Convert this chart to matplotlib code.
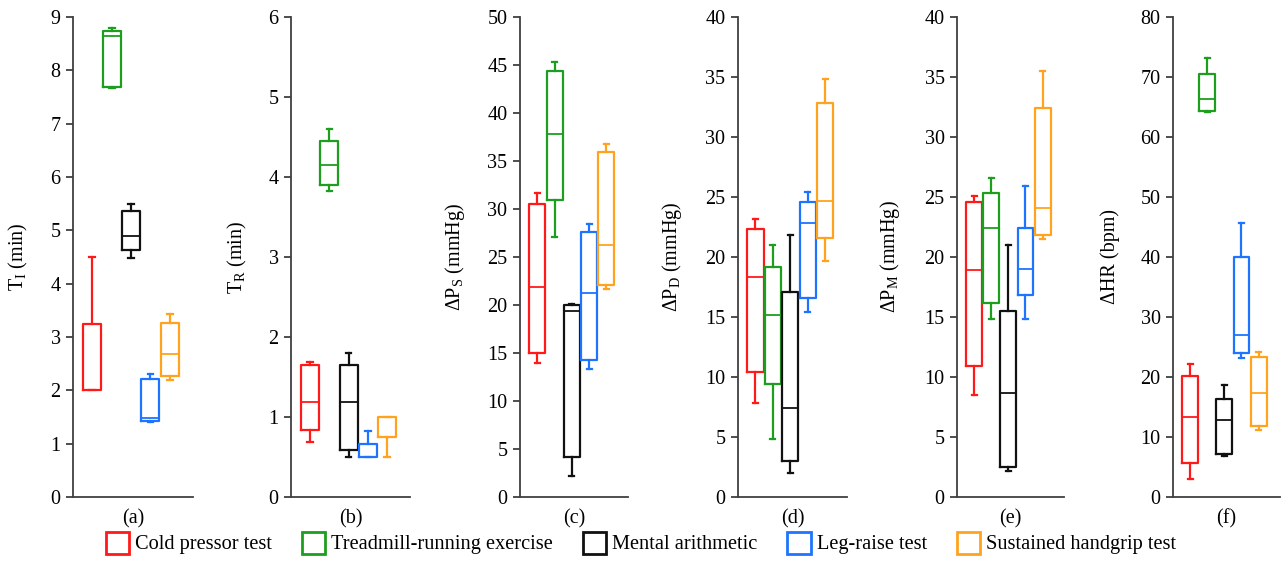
import matplotlib
matplotlib.use('Agg')
import matplotlib.pyplot as plt
from matplotlib.patches import Patch

plt.rcParams['font.family'] = ['Liberation Serif', 'DejaVu Serif']
plt.rcParams['mathtext.fontset'] = 'custom'
plt.rcParams['mathtext.rm'] = 'Liberation Serif'
plt.rcParams['font.size'] = 14.5

tests = ["Cold pressor test", "Treadmill-running exercise", "Mental arithmetic",
         "Leg-raise test", "Sustained handgrip test"]
colors = ['#ff1a1a', '#1e9e1e', '#111111', '#1f74ff', '#ffa31f']

panels = ['(a)', '(b)', '(c)', '(d)', '(e)', '(f)']
ylabels = [r'T$_\mathrm{I}$ (min)', r'T$_\mathrm{R}$ (min)', r'ΔP$_\mathrm{S}$ (mmHg)',
           r'ΔP$_\mathrm{D}$ (mmHg)', r'ΔP$_\mathrm{M}$ (mmHg)', 'ΔHR (bpm)']
ylims = [9, 6, 50, 40, 40, 80]
ysteps = [1, 1, 5, 5, 5, 10]

# per panel, per test: [min, q1, median, q3, max]
stats_a = [[2.0, 2.0, 2.0, 3.25, 4.5],
           [7.67, 7.68, 8.64, 8.74, 8.79],
           [4.49, 4.64, 4.89, 5.37, 5.49],
           [1.41, 1.42, 1.49, 2.22, 2.31],
           [2.19, 2.26, 2.69, 3.27, 3.44]]
stats_b = [[0.69, 0.84, 1.19, 1.65, 1.69],
           [3.82, 3.90, 4.15, 4.45, 4.60],
           [0.50, 0.59, 1.19, 1.65, 1.80],
           [0.50, 0.50, 0.50, 0.66, 0.83],
           [0.50, 0.75, 0.75, 1.00, 1.00]]
stats_c = [[14.0, 15.0, 21.9, 30.5, 31.7],
           [27.1, 30.9, 37.8, 44.4, 45.3],
           [2.2, 4.2, 19.4, 20.0, 20.1],
           [13.3, 14.3, 21.3, 27.6, 28.4],
           [21.7, 22.1, 26.3, 35.9, 36.8]]
stats_d = [[7.8, 10.4, 18.3, 22.3, 23.2],
           [4.8, 9.4, 15.2, 19.2, 21.0],
           [2.0, 3.0, 7.4, 17.1, 21.8],
           [15.4, 16.6, 22.8, 24.6, 25.4],
           [19.7, 21.6, 24.7, 32.8, 34.8]]
stats_e = [[8.5, 10.9, 18.9, 24.6, 25.1],
           [14.8, 16.2, 22.4, 25.3, 26.6],
           [2.2, 2.5, 8.7, 15.5, 21.0],
           [14.8, 16.8, 19.0, 22.4, 25.9],
           [21.5, 21.8, 24.1, 32.4, 35.5]]
stats_f = [[3.0, 5.6, 13.3, 20.2, 22.2],
           [64.1, 64.3, 66.4, 70.5, 73.1],
           [6.8, 7.2, 12.8, 16.3, 18.6],
           [23.2, 24.0, 27.0, 40.0, 45.6],
           [11.1, 11.9, 17.4, 23.3, 24.2]]
all_stats = [stats_a, stats_b, stats_c, stats_d, stats_e, stats_f]

# axes extents in pixels (left, right)
W, H = 1282, 582
extents = [(73, 193), (291, 410), (520, 628), (738, 847), (957, 1064), (1173, 1280)]
label_off = [55, 54, 65, 66, 67, 65]
top, bottom = 17, 497

fig = plt.figure(figsize=(W / 100, H / 100), dpi=100)

for i in range(6):
    l, r = extents[i]
    ax = fig.add_axes([l / W, 1 - bottom / H, (r - l) / W, (bottom - top) / H])
    for j, s in enumerate(all_stats[i]):
        st = [dict(whislo=s[0], q1=s[1], med=s[2], q3=s[3], whishi=s[4], fliers=[])]
        c = colors[j]
        ax.bxp(st, positions=[j + 1], widths=0.93, capwidths=0.3, showfliers=False,
               boxprops=dict(color=c, linewidth=1.6),
               medianprops=dict(color=c, linewidth=1.3),
               whiskerprops=dict(color=c, linewidth=1.6),
               capprops=dict(color=c, linewidth=1.6))
    ax.set_xlim(0, 6.2 if i < 2 else 6.25)
    ax.set_ylim(0, ylims[i])
    ax.set_yticks(range(0, ylims[i] + 1, ysteps[i]))
    ax.set_xticks([])
    ax.set_xlabel(panels[i], labelpad=9)
    ax.set_ylabel(ylabels[i])
    ax.yaxis.set_label_coords(-(label_off[i] - 12) / (r - l), 0.5)
    for sp in ['top', 'right']:
        ax.spines[sp].set_visible(False)
    for sp in ['left', 'bottom']:
        ax.spines[sp].set_color('#404040')
        ax.spines[sp].set_linewidth(1.3)
    ax.tick_params(axis='y', direction='out', length=5, width=1.3, color='#404040', pad=4)

handles = [Patch(facecolor='white', edgecolor=c, linewidth=2, label=t) for c, t in zip(colors, tests)]
fig.legend(handles=handles, loc='center', bbox_to_anchor=(0.5, 1 - 543 / H), ncol=5,
           frameon=False, handlelength=1.15, handleheight=1.3, handletextpad=0.3,
           columnspacing=1.45, fontsize=14.7)

fig.savefig('out.png', dpi=100)
